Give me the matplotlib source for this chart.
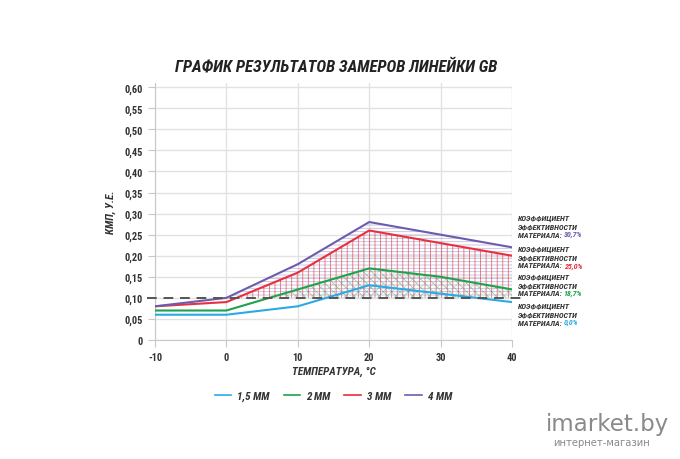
import matplotlib
matplotlib.use('Agg')
import matplotlib.pyplot as plt
import numpy as np

# Data
temps = [-10, 0, 10, 20, 30, 40]
series_names = ['1,5 ММ', '2 ММ', '3 ММ', '4 ММ']
kmp_15 = [0.06, 0.06, 0.08, 0.13, 0.11, 0.09]
kmp_2 = [0.07, 0.07, 0.12, 0.17, 0.15, 0.12]
kmp_3 = [0.08, 0.09, 0.16, 0.26, 0.23, 0.20]
kmp_4 = [0.08, 0.10, 0.18, 0.28, 0.25, 0.22]
efficiency = ['30,7%', '25,0%', '18,7%', '0,0%']
threshold = 0.10
yticks = [0, 0.05, 0.10, 0.15, 0.20, 0.25, 0.30, 0.35, 0.40, 0.45, 0.50, 0.55, 0.60]

colors = ['#29abe2', '#1fa24c', '#e8303f', '#6d5cad']

FONT = ['Roboto Condensed', 'Liberation Sans Narrow', 'DejaVu Sans']
plt.rcParams['font.family'] = FONT
plt.rcParams['font.stretch'] = 'condensed'
plt.rcParams['hatch.linewidth'] = 0.6

fig = plt.figure(figsize=(6.8, 4.6), dpi=100)
ax = fig.add_axes([155 / 680, 1 - 341 / 460, 357 / 680, 257 / 460])

x = np.array(temps, dtype=float)
all_series = [kmp_15, kmp_2, kmp_3, kmp_4]
hatches = ['////', '\\\\\\\\', '|||', '-----']
hatch_alpha = [0.35, 0.45, 0.7, 0.4]

# hatched areas above the threshold, from the top series down
for vals, c, h, a in zip(all_series[::-1], colors[::-1], hatches[::-1], hatch_alpha[::-1]):
    y = np.array(vals)
    ax.fill_between(x, threshold, y, where=y > threshold, interpolate=True,
                    facecolor='none', edgecolor=matplotlib.colors.to_rgba(c, a),
                    hatch=h, linewidth=0, zorder=2)
# extra gray cross hatch on the green area
y2 = np.array(kmp_2)
ax.fill_between(x, threshold, y2, where=y2 > threshold, interpolate=True,
                facecolor='none', edgecolor=(0.5, 0.5, 0.5, 0.25),
                hatch='////', linewidth=0, zorder=2)

for vals, c, name in zip(all_series, colors, series_names):
    ax.plot(x, vals, color=c, linewidth=1.5, label=name, zorder=4)

ax.plot([-11.1, 41.2], [threshold, threshold], color='#555555', linestyle=(0, (5, 3.5)),
        linewidth=1.4, clip_on=False, zorder=5)

ax.set_xlim(-10, 40)
ax.set_ylim(0, 0.61)
ax.set_xticks(temps)
ax.set_xticklabels([str(t) for t in temps])
ax.set_yticks(yticks)
ax.set_yticklabels(['0' if v == 0 else f'{v:.2f}'.replace('.', ',') for v in yticks])
ax.grid(True, color='#e2e2e2', linewidth=1)
ax.set_axisbelow(True)
for s in ['top', 'right']:
    ax.spines[s].set_visible(False)
for s in ['left', 'bottom']:
    ax.spines[s].set_color('#c8c8c8')
ax.tick_params(colors='#c8c8c8', length=5, labelcolor='#333333', labelsize=7.5)
for lab in ax.get_xticklabels() + ax.get_yticklabels():
    lab.set_fontweight('bold')

ax.set_ylabel('КМП, У.Е.', fontsize=8, fontweight='bold', style='italic', color='#333333', labelpad=6)
ax.set_xlabel('ТЕМПЕРАТУРА, °С', fontsize=8, fontweight='bold', style='italic', color='#333333', labelpad=3)

fig.text(0.495, 1 - 67 / 460, 'ГРАФИК РЕЗУЛЬТАТОВ ЗАМЕРОВ ЛИНЕЙКИ GB', ha='center', va='center',
         fontsize=12, fontweight='heavy', style='italic', color='#222222')

# efficiency notes at the right
fig.canvas.draw()
renderer = fig.canvas.get_renderer()
block_tops = [219, 250, 278, 307]
pct_colors = [colors[3], colors[2], colors[1], colors[0]]
for top, pct, pc in zip(block_tops, efficiency, pct_colors):
    kw = dict(fontsize=5.8, fontweight='bold', style='italic', color='#333333', va='center', ha='left')
    fig.text(518 / 680, 1 - top / 460, 'КОЭФФИЦИЕНТ', **kw)
    fig.text(518 / 680, 1 - (top + 8) / 460, 'ЭФФЕКТИВНОСТИ', **kw)
    t = fig.text(518 / 680, 1 - (top + 16) / 460, 'МАТЕРИАЛА: ', **kw)
    bb = t.get_window_extent(renderer)
    kw['color'] = pc
    fig.text(bb.x1 / fig.bbox.width, 1 - (top + 16) / 460, pct, **kw)

leg = fig.legend(loc='center', bbox_to_anchor=(0.49, 1 - 397 / 460), ncol=4, frameon=False,
                 handlelength=1.5, columnspacing=1.3, handletextpad=0.5,
                 prop={'size': 8, 'weight': 'bold', 'style': 'italic'})
for txt in leg.get_texts():
    txt.set_color('#333333')
for line in leg.get_lines():
    line.set_linewidth(1.2)

# watermark
fig.text(607 / 680, 1 - 425 / 460, 'imarket.by', ha='center', va='center', fontsize=16.5,
         color='#8a8a8a', family=['DejaVu Sans'], stretch='normal')
fig.text(601 / 680, 1 - 443 / 460, 'интернет-магазин', ha='center', va='center', fontsize=7.2,
         color='#8a8a8a', family=['DejaVu Sans'], stretch='normal')

fig.savefig('out.png', dpi=100)
